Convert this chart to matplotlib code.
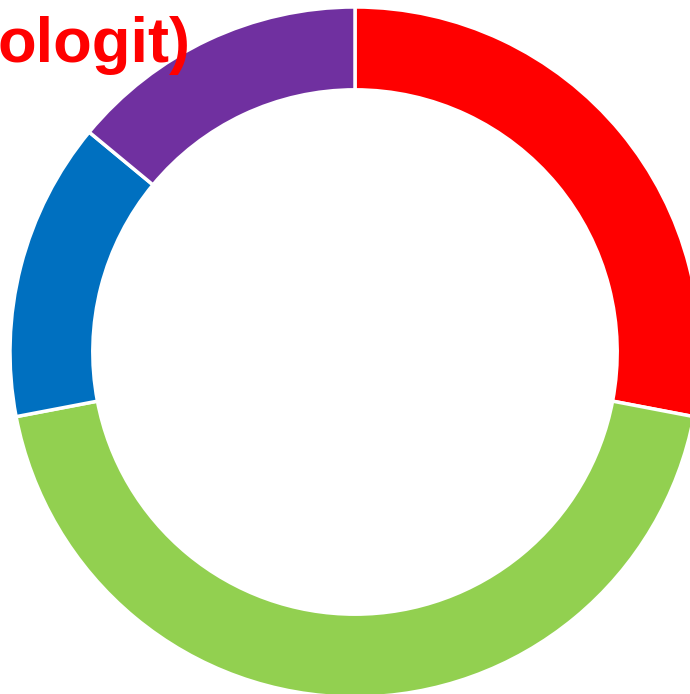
import matplotlib.pyplot as plt

# 数据
labels = ['A', 'B', 'C', 'D']
values = [28, 44, 14, 14]
colors = ['#FF0000', '#92D050', '#0070C0', '#7030A0']
title_text = 'ologit)'

fig = plt.figure(figsize=(6.9, 6.94), dpi=100)
ax = fig.add_axes([0, 0, 1, 1])

ax.pie(values, colors=colors, startangle=90, counterclock=False, radius=1,
       wedgeprops=dict(width=0.24, edgecolor='white', linewidth=2.5))
ax.set_xlim(-355 / 345, 335 / 345)
ax.set_ylim(-342 / 345, 352 / 345)
ax.set_aspect('equal')
ax.axis('off')

fig.text(190 / 690, 1 - 62 / 694, title_text, ha='right', va='baseline',
         fontsize=45.5, fontweight='bold', color='#FF0000',
         family=['Liberation Sans', 'DejaVu Sans'])

plt.savefig('out.png', dpi=100)
plt.close()
